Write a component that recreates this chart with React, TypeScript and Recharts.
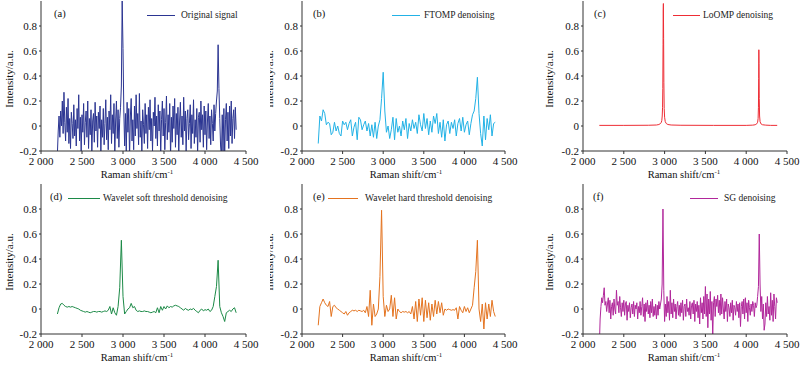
import React from "react";
import { Legend, Line, LineChart, XAxis, YAxis } from "recharts";

const FONT = "'Liberation Serif', 'Times New Roman', serif";

const xTicks = [2000, 2500, 3000, 3500, 4000, 4500];
const xTickLabels = ["2 000", "2 500", "3 000", "3 500", "4 000", "4 500"];
const yTicks = [-0.2, 0, 0.2, 0.4, 0.6, 0.8];
const yTickLabels = ["-0.2", "0", "0.2", "0.4", "0.6", "0.8"];

// Raman shift grids (cm-1)
const shiftFine = [
  2200, 2210, 2220, 2230, 2240, 2250, 2260, 2270, 2280, 2290,
  2300, 2310, 2320, 2330, 2340, 2350, 2360, 2370, 2380, 2390,
  2400, 2410, 2420, 2430, 2440, 2450, 2460, 2470, 2480, 2490,
  2500, 2510, 2520, 2530, 2540, 2550, 2560, 2570, 2580, 2590,
  2600, 2610, 2620, 2630, 2640, 2650, 2660, 2670, 2680, 2690,
  2700, 2710, 2720, 2730, 2740, 2750, 2760, 2770, 2780, 2790,
  2800, 2810, 2820, 2830, 2840, 2850, 2860, 2870, 2880, 2890,
  2900, 2910, 2920, 2930, 2940, 2950, 2960, 2970, 2980, 2990,
  3000, 3010, 3020, 3030, 3040, 3050, 3060, 3070, 3080, 3090,
  3100, 3110, 3120, 3130, 3140, 3150, 3160, 3170, 3180, 3190,
  3200, 3210, 3220, 3230, 3240, 3250, 3260, 3270, 3280, 3290,
  3300, 3310, 3320, 3330, 3340, 3350, 3360, 3370, 3380, 3390,
  3400, 3410, 3420, 3430, 3440, 3450, 3460, 3470, 3480, 3490,
  3500, 3510, 3520, 3530, 3540, 3550, 3560, 3570, 3580, 3590,
  3600, 3610, 3620, 3630, 3640, 3650, 3660, 3670, 3680, 3690,
  3700, 3710, 3720, 3730, 3740, 3750, 3760, 3770, 3780, 3790,
  3800, 3810, 3820, 3830, 3840, 3850, 3860, 3870, 3880, 3890,
  3900, 3910, 3920, 3930, 3940, 3950, 3960, 3970, 3980, 3990,
  4000, 4010, 4020, 4030, 4040, 4050, 4060, 4070, 4080, 4090,
  4100, 4110, 4120, 4130, 4140, 4150, 4160, 4170, 4180, 4190,
  4200, 4210, 4220, 4230, 4240, 4250, 4260, 4270, 4280, 4290,
  4300, 4310, 4320, 4330, 4340, 4350, 4360, 4370, 4380,
];

const shiftCoarse = [
  2200, 2220, 2240, 2260, 2280, 2300, 2320, 2340, 2360, 2380,
  2400, 2420, 2440, 2460, 2480, 2500, 2520, 2540, 2560, 2580,
  2600, 2620, 2640, 2660, 2680, 2700, 2720, 2740, 2760, 2780,
  2800, 2820, 2840, 2860, 2880, 2900, 2920, 2940, 2960, 2980,
  3000, 3020, 3040, 3060, 3080, 3100, 3120, 3140, 3160, 3180,
  3200, 3220, 3240, 3260, 3280, 3300, 3320, 3340, 3360, 3380,
  3400, 3420, 3440, 3460, 3480, 3500, 3520, 3540, 3560, 3580,
  3600, 3620, 3640, 3660, 3680, 3700, 3720, 3740, 3760, 3780,
  3800, 3820, 3840, 3860, 3880, 3900, 3920, 3940, 3960, 3980,
  4000, 4020, 4040, 4060, 4080, 4100, 4120, 4140, 4160, 4180,
  4200, 4220, 4240, 4260, 4280, 4300, 4320, 4340, 4360, 4380,
];

const shiftLoomp = [
  2200, 2500, 2800, 2900, 2930, 2950, 2960, 2966, 2971, 2975, 2978,
  2981, 2983, 2985, 2988, 2991, 2995, 3000, 3008, 3020, 3040, 3080,
  3200, 3600, 4000, 4080, 4110, 4130, 4140, 4146, 4150, 4153, 4155,
  4157, 4160, 4164, 4170, 4180, 4200, 4240, 4300, 4380,
];

// (a) original signal, on shiftFine
const originalSignal = [
  -0.22, -0.04, 0.08, -0.09, 0.12, 0.0, 0.2, -0.06, 0.27, 0.03,
  -0.12, 0.15, -0.05, 0.22, -0.14, 0.06, -0.18, 0.11, 0.02, -0.1,
  0.17, -0.08, 0.05, -0.16, 0.14, -0.02, 0.25, -0.12, 0.07, -0.2,
  0.09, -0.05, 0.18, -0.15, 0.03, 0.12, -0.09, 0.2, -0.18, 0.06,
  -0.07, 0.13, -0.22, 0.04, 0.1, -0.13, 0.19, -0.04, 0.08, -0.17,
  0.11, -0.02, 0.16, -0.21, 0.05, -0.09, 0.14, -0.15, 0.02, 0.21,
  -0.11, 0.07, -0.19, 0.12, -0.03, 0.25, -0.14, 0.09, -0.06, 0.18,
  -0.23, 0.04, 0.2, -0.1, 0.13, -0.17, 0.06, 0.15, 0.32, 1.0,
  0.62, 0.12, -0.16, 0.1, -0.22, 0.19, -0.05, 0.14, -0.25, 0.08,
  0.22, -0.12, 0.05, -0.19, 0.16, -0.08, 0.25, -0.02, 0.1, -0.15,
  0.26, -0.09, 0.04, -0.21, 0.13, 0.01, -0.14, 0.18, -0.06, 0.09,
  -0.18, 0.15, -0.03, 0.21, -0.12, 0.06, -0.2, 0.11, 0.0, 0.23,
  -0.1, 0.08, -0.16, 0.17, -0.04, 0.12, -0.22, 0.05, 0.2, -0.08,
  0.14, -0.19, 0.03, 0.24, -0.11, 0.09, -0.05, 0.18, -0.24, 0.07,
  -0.13, 0.16, -0.02, 0.22, -0.17, 0.1, -0.07, 0.15, -0.21, 0.04,
  0.19, -0.09, 0.08, -0.15, 0.23, -0.04, 0.12, -0.2, 0.06, 0.13,
  -0.11, 0.02, 0.17, -0.18, 0.09, -0.06, 0.21, -0.14, 0.05, -0.09,
  0.14, -0.22, 0.07, 0.11, -0.13, 0.2, -0.03, 0.09, -0.17, 0.16,
  -0.07, 0.12, -0.19, 0.04, 0.18, -0.1, 0.08, -0.15, 0.13, 0.02,
  -0.12, 0.17, -0.04, 0.1, 0.2, 0.28, 0.65, 0.3, 0.06, -0.16,
  -0.25, 0.09, -0.2, 0.14, -0.23, 0.05, 0.18, -0.12, 0.11, -0.18,
  0.16, -0.08, 0.2, -0.14, 0.06, 0.13, -0.1, 0.15, -0.03,
];

// (b) FTOMP, on shiftCoarse
const ftompDenoised = [
  -0.14, 0.08, 0.04, 0.13, 0.1, 0.01, 0.03, 0.02, -0.07, -0.05,
  0.03, -0.04, 0.0, -0.06, -0.08, 0.04, 0.01, 0.03, -0.03, 0.02,
  0.05, -0.08, -0.01, 0.03, -0.11, 0.07, 0.05, -0.03, 0.01, 0.04,
  -0.04, 0.02, -0.08, 0.01, -0.09, 0.03, -0.1, 0.0, 0.05, 0.22,
  0.43, 0.12, -0.05, 0.0, -0.1, -0.03, 0.07, -0.11, 0.06, -0.05,
  0.0, -0.08, 0.04, -0.03, 0.06, -0.1, 0.02, -0.04, 0.05, -0.02,
  0.03, -0.06, 0.09, 0.01, -0.04, 0.1, -0.02, 0.06, -0.07, 0.04,
  -0.05, 0.08, 0.02, 0.1, -0.06, 0.03, -0.09, 0.05, -0.12, 0.01,
  0.04, -0.06, 0.03, -0.02, 0.05, -0.08, 0.02, 0.06, -0.04, 0.07,
  -0.05, 0.01, 0.04, -0.07, 0.02, 0.09, 0.12, 0.22, 0.39, 0.1,
  -0.06, -0.16, 0.08, -0.11, 0.06, -0.03, 0.09, -0.08, 0.02, 0.03,
];

// (c) LoOMP, on shiftLoomp
const loompDenoised = [
  0.005, 0.005, 0.006, 0.008, 0.012, 0.02, 0.03, 0.045, 0.08, 0.15, 0.3,
  0.65, 0.92, 0.98, 0.7, 0.35, 0.14, 0.07, 0.035, 0.02, 0.012, 0.008,
  0.006, 0.005, 0.005, 0.007, 0.01, 0.018, 0.03, 0.06, 0.15, 0.38, 0.61,
  0.5, 0.22, 0.08, 0.035, 0.018, 0.01, 0.007, 0.005, 0.005,
];

// (d) wavelet soft threshold, on shiftCoarse
const waveletSoft = [
  -0.04, 0.01, 0.04, 0.045, 0.03, 0.02, 0.015, 0.02, 0.015, 0.02,
  0.015, 0.01, 0.005, 0.0, -0.01, -0.015, -0.02, -0.025, -0.02, -0.025,
  -0.03, -0.025, -0.02, -0.02, -0.025, -0.02, -0.02, -0.025, -0.02, -0.015,
  -0.02, -0.01, 0.02, -0.04, 0.01, -0.03, -0.05, 0.02, 0.17, 0.55,
  0.1, -0.04, -0.02, 0.0, 0.01, 0.045, 0.01, 0.02, -0.01, -0.02,
  -0.015, -0.02, -0.02, -0.015, -0.02, -0.02, -0.025, -0.03, -0.025, -0.02,
  -0.03, 0.01, -0.03, 0.02, -0.01, 0.02, 0.0, 0.025, 0.01, 0.02,
  0.015, 0.025, 0.03, 0.025, 0.02, 0.01, 0.0, -0.01, 0.005, -0.005,
  -0.01, 0.0, -0.005, 0.005, -0.01, -0.02, -0.03, -0.01, 0.0, -0.015,
  -0.005, -0.01, 0.0, -0.02, -0.01, 0.02, 0.1, 0.18, 0.39, 0.02,
  -0.03, -0.06, -0.1, -0.03, -0.02, -0.01, -0.02, 0.0, 0.01, -0.03,
];

// (e) wavelet hard threshold, on shiftCoarse
const waveletHard = [
  -0.13, 0.02, 0.05, 0.08, 0.05, 0.03, 0.02, 0.06, -0.06, 0.02,
  0.03, 0.01, 0.0, -0.01, -0.02, -0.03, -0.04, -0.02, -0.05, -0.03,
  -0.02, -0.01, -0.015, -0.01, -0.02, -0.01, -0.015, -0.02, -0.01, -0.03,
  0.02, -0.06, 0.15, -0.13, 0.04, -0.06, -0.04, 0.0, 0.26, 0.79,
  0.1, -0.06, 0.03, -0.02, 0.0, 0.11, -0.06, 0.09, -0.08, 0.0,
  -0.02, -0.03, -0.02, -0.025, -0.02, -0.03, -0.02, -0.04, 0.02, -0.08,
  0.06, -0.1, 0.08, -0.05, 0.09, -0.1, 0.07, -0.07, 0.05, -0.09,
  0.04, -0.06, 0.07, -0.04, 0.06, -0.03, 0.05, -0.05, 0.0, -0.01,
  0.0, -0.005, -0.01, -0.005, -0.01, 0.01, -0.08, 0.02, -0.01, -0.03,
  0.02, -0.02, 0.01, -0.03, 0.0, 0.03, 0.17, 0.3, 0.55, 0.0,
  -0.1, 0.04, -0.16, 0.05, -0.08, 0.04, -0.06, 0.07, -0.02, -0.06,
];

// (f) SG, on shiftFine
const sgDenoised = [
  -0.3, -0.08, 0.02, 0.09, 0.05, 0.11, 0.17, 0.03, 0.06, -0.02,
  0.04, 0.09, -0.03, 0.07, -0.08, 0.02, 0.05, -0.05, 0.08, 0.0,
  -0.04, 0.15, 0.03, 0.06, -0.03, 0.1, 0.01, -0.06, 0.05, -0.02,
  0.07, -0.05, 0.04, 0.06, -0.09, 0.03, -0.02, 0.05, -0.07, 0.01,
  0.04, -0.04, 0.06, -0.06, 0.03, 0.0, 0.05, -0.08, 0.02, -0.03,
  0.06, -0.05, 0.02, 0.09, -0.06, 0.04, -0.1, 0.05, -0.02, 0.07,
  -0.04, 0.03, -0.07, 0.06, -0.03, 0.08, -0.06, 0.02, -0.05, 0.04,
  -0.08, 0.03, -0.05, 0.06, 0.0, 0.04, 0.08, 0.2, 0.8, 0.15,
  -0.1, 0.04, -0.06, 0.1, -0.03, 0.06, -0.09, 0.15, -0.04, 0.05,
  -0.07, 0.08, -0.02, 0.04, -0.08, 0.02, 0.06, -0.05, 0.03, -0.06,
  0.05, -0.03, 0.07, -0.09, 0.02, 0.04, -0.06, 0.08, -0.02, 0.01,
  -0.05, 0.06, -0.08, 0.03, 0.05, -0.04, 0.07, -0.1, 0.04, -0.02,
  0.06, -0.07, 0.03, -0.12, 0.09, -0.03, 0.05, -0.08, 0.1, -0.04,
  0.18, -0.06, 0.12, -0.15, 0.08, -0.04, 0.14, -0.09, 0.06, -0.22,
  0.05, 0.1, -0.06, 0.08, 0.02, 0.11, -0.03, 0.07, -0.05, 0.12,
  -0.04, 0.09, 0.0, -0.08, 0.06, -0.02, 0.08, -0.1, 0.04, 0.01,
  -0.06, 0.05, -0.03, 0.07, -0.09, 0.03, 0.01, -0.05, 0.06, -0.02,
  0.04, -0.07, 0.05, -0.14, 0.02, 0.06, -0.04, 0.08, -0.08, 0.09,
  -0.03, 0.05, -0.1, 0.07, 0.01, -0.05, 0.04, -0.02, 0.06, 0.03,
  -0.06, 0.05, 0.01, 0.03, 0.1, 0.18, 0.6, 0.2, -0.02, 0.1,
  -0.08, 0.04, -0.17, -0.12, 0.05, -0.06, 0.1, -0.04, 0.02, -0.09,
  0.13, -0.05, 0.07, -0.1, 0.12, 0.02, -0.08, 0.09, 0.05,
];

type Panel = {
  tag: string;
  name: string;
  color: string;
  xs: number[];
  ys: number[];
  left: number;
  top: number;
  width: number;
  yAxisWidth: number;
  right: number;
  yLabelX: number;
  titleX: number;
  tagX: number;
  lineX: number;
  lineLen: number;
  textX: number;
};

const columns = [
  { left: 0, width: 270, yAxisWidth: 41, right: 24, yLabelX: 9, titleX: 137 },
  { left: 270, width: 260, yAxisWidth: 32, right: 25, yLabelX: -1, titleX: 136 },
  { left: 530, width: 270, yAxisWidth: 53, right: 13, yLabelX: 19, titleX: 154 },
];

const panels: Panel[] = [
  { ...columns[0], top: 0, tag: "(a)", name: "Original signal", color: "#2B3592", xs: shiftFine, ys: originalSignal, tagX: 54, lineX: 147, lineLen: 28, textX: 181 },
  { ...columns[1], top: 0, tag: "(b)", name: "FTOMP denoising", color: "#22B2E6", xs: shiftCoarse, ys: ftompDenoised, tagX: 43, lineX: 122, lineLen: 28, textX: 154 },
  { ...columns[2], top: 0, tag: "(c)", name: "LoOMP denoising", color: "#EE2D35", xs: shiftLoomp, ys: loompDenoised, tagX: 64, lineX: 143, lineLen: 27, textX: 173 },
  { ...columns[0], top: 183, tag: "(d)", name: "Wavelet soft threshold denoising", color: "#1C8A47", xs: shiftCoarse, ys: waveletSoft, tagX: 50, lineX: 68, lineLen: 32, textX: 103 },
  { ...columns[1], top: 183, tag: "(e)", name: "Wavelet hard threshold denoising", color: "#E4731F", xs: shiftCoarse, ys: waveletHard, tagX: 43, lineX: 58, lineLen: 30, textX: 95 },
  { ...columns[2], top: 183, tag: "(f)", name: "SG denoising", color: "#B1279B", xs: shiftFine, ys: sgDenoised, tagX: 63, lineX: 160, lineLen: 28, textX: 194 },
];

const PanelKey = ({ p }: { p: Panel }) => (
  <div style={{ position: "relative", width: p.width, height: 30, fontFamily: FONT, color: "#111" }}>
    <span style={{ position: "absolute", left: p.tagX, top: 7, fontSize: 10.5, lineHeight: "14px" }}>{p.tag}</span>
    <span style={{ position: "absolute", left: p.lineX, top: 15, width: p.lineLen, height: 1, background: p.color }} />
    <span style={{ position: "absolute", left: p.textX, top: 9, fontSize: 9.5, lineHeight: "13px", whiteSpace: "nowrap", color: "#222" }}>{p.name}</span>
  </div>
);

const ChartPanel = ({ p }: { p: Panel }) => {
  const rows = p.xs.map((x, i) => ({ x, y: p.ys[i] }));
  const tickStyle = { fontSize: 11, fill: "#111", fontFamily: FONT };
  return (
    <div style={{ position: "absolute", left: p.left, top: p.top }}>
      <LineChart width={p.width} height={183} data={rows} margin={{ top: 1, right: p.right, bottom: 0, left: 0 }}>
        <XAxis
          dataKey="x"
          type="number"
          domain={[2000, 4500]}
          ticks={xTicks}
          interval={0}
          tickFormatter={(v: number) => xTickLabels[xTicks.indexOf(v)]}
          height={32}
          tickSize={3}
          tickMargin={3}
          stroke="#333"
          tick={tickStyle}
          label={() => (
            <text x={p.titleX} y={176} textAnchor="middle" dominantBaseline="middle" fontFamily={FONT} fontSize={10.5} fill="#111">
              Raman shift/cm<tspan dy={-4} fontSize={7}>-1</tspan>
            </text>
          )}
        />
        <YAxis
          type="number"
          domain={[-0.2, 1.0]}
          ticks={yTicks}
          interval={0}
          allowDataOverflow
          tickFormatter={(v: number) => yTickLabels[yTicks.indexOf(v)]}
          width={p.yAxisWidth}
          tickSize={2}
          tickMargin={2}
          stroke="#333"
          tick={tickStyle}
          label={() => (
            <text
              x={p.yLabelX}
              y={79}
              transform={`rotate(-90 ${p.yLabelX} 79)`}
              textAnchor="middle"
              dominantBaseline="central"
              fontFamily={FONT}
              fontSize={11}
              fill="#111"
            >
              Intensity/a.u.
            </text>
          )}
        />
        <Legend
          layout="horizontal"
          verticalAlign="middle"
          wrapperStyle={{ top: 0, left: 0, width: p.width, height: 30 }}
          content={() => <PanelKey p={p} />}
        />
        <Line
          dataKey="y"
          name={p.name}
          type="linear"
          stroke={p.color}
          strokeWidth={1}
          dot={false}
          activeDot={false}
          isAnimationActive={false}
        />
      </LineChart>
    </div>
  );
};

export default function App() {
  return (
    <div style={{ position: "absolute", left: 0, top: 0, width: 800, height: 366, background: "#fff", overflow: "hidden" }}>
      {panels.map((p) => (
        <ChartPanel key={p.tag} p={p} />
      ))}
    </div>
  );
}
